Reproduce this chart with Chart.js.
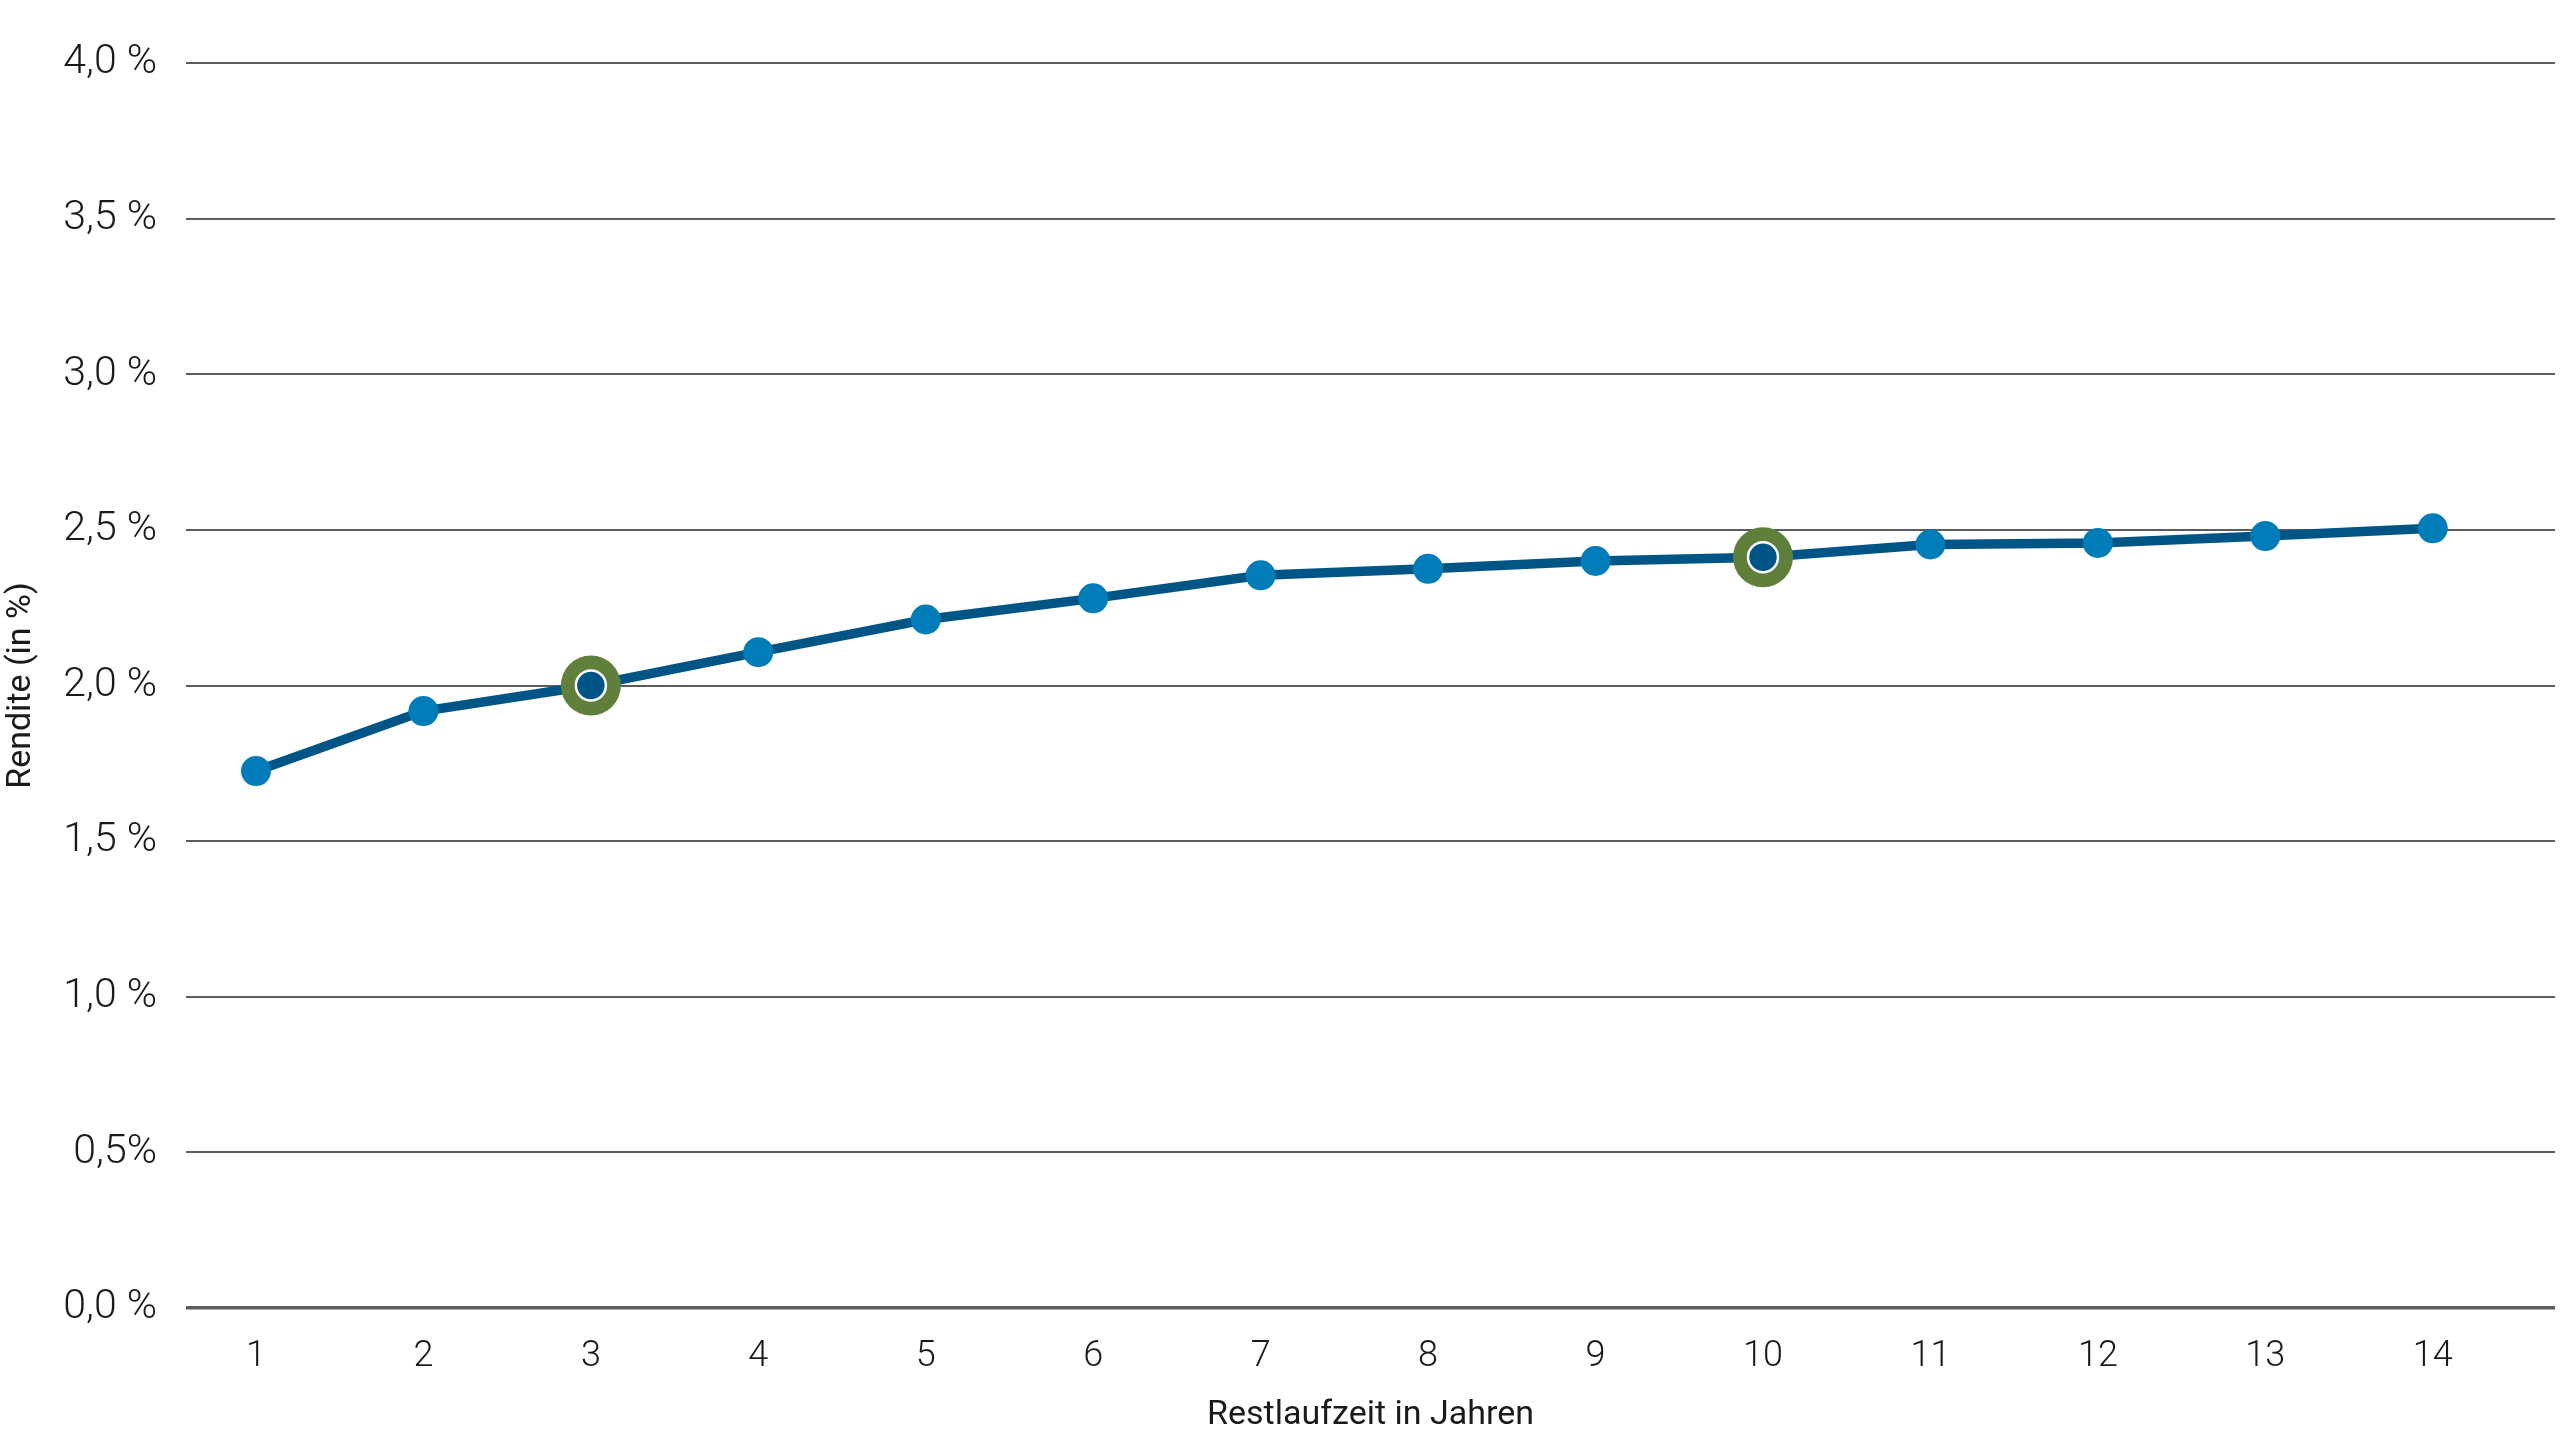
<!DOCTYPE html>
<html>
<head>
<meta charset="utf-8">
<script src="https://cdn.jsdelivr.net/npm/chart.js@4/dist/chart.umd.min.js"></script>
<style>
  html, body { margin: 0; padding: 0; background: #ffffff; overflow: hidden; }
  #wrap { width: 2560px; height: 1440px; position: relative; overflow: hidden; }
  canvas { display: block; }
</style>
</head>
<body>
<div id="wrap"><canvas id="c" width="2560" height="1440"></canvas></div>
<script>
// Restlaufzeit (years)
const maturities = [1, 2, 3, 4, 5, 6, 7, 8, 9, 10, 11, 12, 13, 14];
// Rendite in %
const yields = [1.725, 1.918, 2.0, 2.107, 2.212, 2.28, 2.354, 2.375, 2.40, 2.412, 2.453, 2.458, 2.48, 2.505];
// highlighted maturities
const highlighted = [3, 10];
// y tick labels (0,0 … 4,0)
const yTickLabels = ["0,0 %", "0,5%", "1,0 %", "1,5 %", "2,0 %", "2,5 %", "3,0 %", "3,5 %", "4,0 %"];
const xTitle = "Restlaufzeit in Jahren";
const yTitle = "Rendite (in %)";

const points = maturities.map((m, i) => ({ x: m, y: yields[i] }));
const hiPoints = maturities.map((m, i) => ({ x: m, y: highlighted.includes(m) ? yields[i] : null }));

Chart.defaults.font.family = "Roboto, 'Liberation Sans', sans-serif";
Chart.defaults.color = "#1a1a1a";

new Chart(document.getElementById('c'), {
  type: 'line',
  data: {
    datasets: [
      {
        label: 'inner',
        data: hiPoints,
        order: 0,
        showLine: false,
        pointRadius: 15,
        pointHoverRadius: 15,
        pointBackgroundColor: '#005587',
        pointBorderColor: '#ffffff',
        pointBorderWidth: 2.5,
        clip: false
      },
      {
        label: 'outer',
        data: hiPoints,
        order: 1,
        showLine: false,
        pointRadius: 30,
        pointHoverRadius: 30,
        pointBackgroundColor: '#5F7F3B',
        pointBorderWidth: 0,
        clip: false
      },
      {
        label: 'Rendite',
        data: points,
        order: 2,
        borderColor: '#005587',
        borderWidth: 9.5,
        tension: 0,
        pointRadius: 15,
        pointHoverRadius: 15,
        pointBackgroundColor: '#007DB8',
        pointBorderWidth: 0,
        clip: false
      }
    ]
  },
  options: {
    responsive: false,
    animation: false,
    devicePixelRatio: 1,
    layout: { autoPadding: false, padding: { top: 63, right: 5, bottom: 0, left: 0 } },
    plugins: {
      legend: { display: false },
      tooltip: { enabled: false }
    },
    scales: {
      x: {
        type: 'linear',
        min: 0.582,
        max: 14.73,
        grid: { display: false, drawTicks: false },
        border: { display: false },
        ticks: {
          stepSize: 1,
          includeBounds: false,
          padding: 27,
          color: '#1a1a1a',
          font: { size: 36, weight: 300 },
          callback: (v) => maturities.includes(v) ? String(v) : ''
        },
        title: {
          display: true,
          text: xTitle,
          color: '#1a1a1a',
          font: { size: 34, weight: 400 },
          padding: { top: 0, bottom: 4 }
        },
        afterFit: (s) => { s.height = 132; s.paddingLeft = 0; s.paddingRight = 0; }
      },
      y: {
        min: 0,
        max: 4,
        grid: {
          color: '#5b5c5e',
          lineWidth: (ctx) => (ctx.tick && ctx.tick.value === 0 ? 3.5 : 2),
          drawTicks: false
        },
        border: { display: false },
        ticks: {
          stepSize: 0.5,
          padding: 29,
          color: '#1a1a1a',
          font: { size: 41, weight: 300 },
          callback: (v) => yTickLabels[Math.round(v / 0.5)]
        },
        title: {
          display: true,
          text: yTitle,
          color: '#1a1a1a',
          font: { size: 34, weight: 400 },
          padding: { top: 1, bottom: 0 }
        },
        afterFit: (s) => { s.width = 186; s.paddingTop = 0; s.paddingBottom = 0; }
      }
    }
  }
});
</script>
</body>
</html>
